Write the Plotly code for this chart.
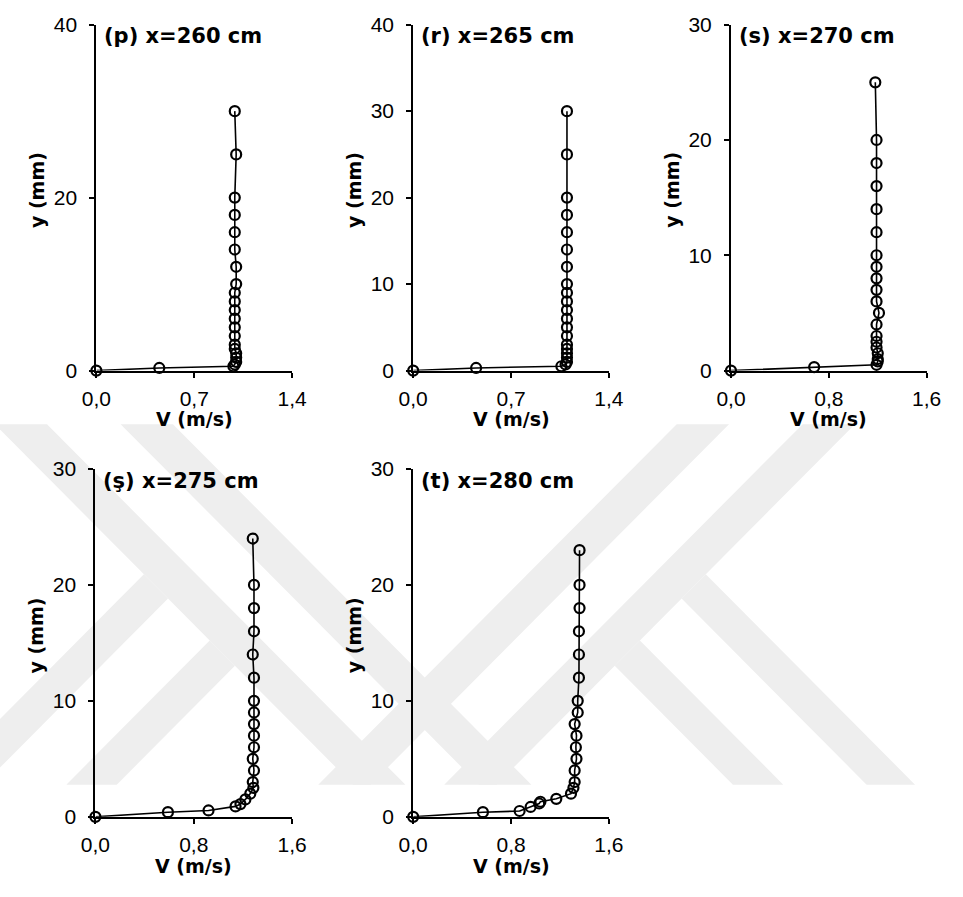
import plotly.graph_objects as go

# ---- velocity profiles V (m/s) against height above bed y (mm) ----
y_260 = [0, 0.3, 0.5, 0.7, 1.0, 1.5, 2.0, 2.5, 3, 4, 5, 6, 7, 8, 9, 10, 12, 14, 16, 18, 20, 25, 30]
v_260 = [0, 0.45, 0.98, 0.99, 1.0, 1.0, 1.0, 0.99, 0.99, 0.99, 0.99, 0.99, 0.99, 0.99, 0.99, 1.0, 1.0, 0.99, 0.99, 0.99, 0.99, 1.0, 0.99]

y_265 = [0, 0.3, 0.5, 0.7, 1.0, 1.5, 2.0, 2.5, 3, 4, 5, 6, 7, 8, 9, 10, 12, 14, 16, 18, 20, 25, 30]
v_265 = [0, 0.45, 1.06, 1.09, 1.10, 1.10, 1.10, 1.10, 1.10, 1.10, 1.10, 1.10, 1.10, 1.10, 1.10, 1.10, 1.10, 1.10, 1.10, 1.10, 1.10, 1.10, 1.10]

y_270 = [0, 0.3, 0.5, 0.8, 1.0, 1.5, 2.0, 2.5, 3, 4, 5, 6, 7, 8, 9, 10, 12, 14, 16, 18, 20, 25]
v_270 = [0, 0.68, 1.19, 1.20, 1.20, 1.20, 1.19, 1.19, 1.19, 1.19, 1.21, 1.19, 1.19, 1.19, 1.19, 1.19, 1.19, 1.19, 1.19, 1.19, 1.19, 1.18]

y_275 = [0, 0.4, 0.55, 0.9, 1.1, 1.5, 2.0, 2.5, 3, 4, 5, 6, 7, 8, 9, 10, 12, 14, 16, 18, 20, 24]
v_275 = [0, 0.59, 0.92, 1.14, 1.18, 1.22, 1.26, 1.285, 1.28, 1.29, 1.28, 1.29, 1.29, 1.29, 1.29, 1.29, 1.29, 1.28, 1.29, 1.29, 1.29, 1.28]

y_280 = [0, 0.4, 0.5, 0.85, 1.15, 1.3, 1.55, 2.0, 2.5, 3, 4, 5, 6, 7, 8, 9, 10, 12, 14, 16, 18, 20, 23]
v_280 = [0, 0.57, 0.87, 0.96, 1.03, 1.04, 1.17, 1.29, 1.31, 1.32, 1.32, 1.335, 1.33, 1.335, 1.32, 1.345, 1.345, 1.355, 1.355, 1.355, 1.36, 1.36, 1.36]

panel_titles = ["(p) x=260 cm", "(r) x=265 cm", "(s) x=270 cm", "(ş) x=275 cm", "(t) x=280 cm"]

# axis ticks per panel
xtick_vals_a = [0, 0.7, 1.4]
xtick_text_a = ["0,0", "0,7", "1,4"]
xtick_vals_b = [0, 0.8, 1.6]
xtick_text_b = ["0,0", "0,8", "1,6"]
ytick_p = [0, 20, 40]
ytick_r = [0, 10, 20, 30, 40]
ytick_30 = [0, 10, 20, 30]

W, H = 963, 897
FONT = "Arial, 'Liberation Sans', sans-serif"
BOLD = "'DejaVu Sans', Arial, sans-serif"


def px(x):
    return x / W


def py(y):
    return 1 - y / H


# panel boxes in pixels: (left, right, top, bottom)
boxes = [
    (84, 286, 13, 368),
    (411, 613, 13, 368),
    (739, 941, 13, 368),
    (83, 286, 469, 826),
    (411, 613, 469, 826),
]
series = [(v_260, y_260), (v_265, y_265), (v_270, y_270), (v_275, y_275), (v_280, y_280)]
xranges = [1.4, 1.4, 1.6, 1.6, 1.6]
yranges = [40, 40, 30, 30, 30]
xticks = [(xtick_vals_a, xtick_text_a), (xtick_vals_a, xtick_text_a),
          (xtick_vals_b, xtick_text_b), (xtick_vals_b, xtick_text_b), (xtick_vals_b, xtick_text_b)]
yticks = [ytick_p, ytick_r, ytick_30, ytick_30, ytick_30]

fig = go.Figure()
layout = dict(
    width=W, height=H,
    margin=dict(l=0, r=0, t=0, b=0),
    paper_bgcolor="white",
    plot_bgcolor="rgba(0,0,0,0)",
    showlegend=False,
    font=dict(family=FONT, color="black"),
)

annotations = []
for i, ((l, r, t, b), (vx, vy)) in enumerate(zip(boxes, series)):
    n = i + 1
    xa = "x" if n == 1 else f"x{n}"
    ya = "y" if n == 1 else f"y{n}"
    fig.add_trace(go.Scatter(
        x=vx, y=vy, xaxis=xa, yaxis=ya, mode="lines+markers",
        line=dict(color="black", width=1.6),
        marker=dict(symbol="circle-open", size=10, color="black", line=dict(width=2.2, color="black")),
        cliponaxis=False, hoverinfo="skip",
    ))
    common = dict(showline=True, linecolor="black", linewidth=2, showgrid=False, zeroline=False,
                  ticks="outside", ticklen=5, tickwidth=2, tickcolor="black",
                  tickfont=dict(family=FONT, size=21, color="black"))
    layout["xaxis" if n == 1 else f"xaxis{n}"] = dict(
        domain=[px(l), px(r)], anchor=ya, range=[0, xranges[i]],
        tickvals=xticks[i][0], ticktext=xticks[i][1], ticklabelstandoff=3, **common)
    layout["yaxis" if n == 1 else f"yaxis{n}"] = dict(
        domain=[py(b), py(t)], anchor=xa, range=[0, yranges[i]],
        tickvals=yticks[i], ticktext=[str(v) for v in yticks[i]], ticklabelstandoff=8, **common)

    cx = (l + r) / 2
    annotations.append(dict(text="<b>V (m/s)</b>", x=px(cx), y=py(b + 50), xref="paper", yref="paper",
                            xanchor="center", yanchor="middle", showarrow=False,
                            font=dict(family=BOLD, size=19, color="black")))
    annotations.append(dict(text="<b>y (mm)</b>", x=px(l - 61), y=py((t + b) / 2 - 8), xref="paper", yref="paper",
                            xanchor="center", yanchor="middle", textangle=-90, showarrow=False,
                            font=dict(family=BOLD, size=19, color="black")))
    annotations.append(dict(text="<b>" + panel_titles[i] + "</b>", x=px(l + 6), y=py(t + 12), xref="paper", yref="paper",
                            xanchor="left", yanchor="middle", showarrow=False,
                            font=dict(family=BOLD, size=21, color="black")))

# faint background emblem made of diagonal bands, mirrored about a vertical axis
TOP, BOT = 423, 793
C2 = 846  # twice the mirror axis position


def band_up(s1, s2):
    # band with x + y between s1 and s2
    return [(s1 - TOP, TOP), (s2 - TOP, TOP), (s2 - BOT, BOT), (s1 - BOT, BOT)]


def band_down(d1, d2):
    # band with x - y between d1 and d2
    return [(d1 + TOP, TOP), (d2 + TOP, TOP), (d2 + BOT, BOT), (d1 + BOT, BOT)]


def branch_down(d1, d2, s):
    # x - y band starting on the line x + y = s
    return [((s + d2) / 2, (s - d2) / 2), (d2 + BOT, BOT), (d1 + BOT, BOT), ((s + d1) / 2, (s - d1) / 2)]


def branch_up(s1, s2, d):
    # x + y band starting on the line x - y = d
    return [((s1 + d) / 2, (s1 - d) / 2), ((s2 + d) / 2, (s2 - d) / 2), (s2 - BOT, BOT), (s1 - BOT, BOT)]


polys = [
    band_up(1106, 1160), band_up(1236, 1290),
    branch_down(86, 136, 1290), branch_down(-52, 0, 1290),
    band_down(C2 - 1160, C2 - 1106), band_down(C2 - 1290, C2 - 1236),
    branch_up(C2 - 136, C2 - 86, C2 - 1290), branch_up(C2 + 0, C2 + 52, C2 - 1290),
]
shapes = []
for poly in polys:
    path = "M " + " L ".join(f"{px(x):.5f},{py(y):.5f}" for x, y in poly) + " Z"
    shapes.append(dict(type="path", path=path, xref="paper", yref="paper",
                       fillcolor="#eeeeee", line=dict(width=0), layer="below"))

layout["annotations"] = annotations
layout["shapes"] = shapes
fig.update_layout(**layout)
fig.write_html("out.html",
               post_script="document.body.style.margin='0';document.body.style.overflow='hidden';")
